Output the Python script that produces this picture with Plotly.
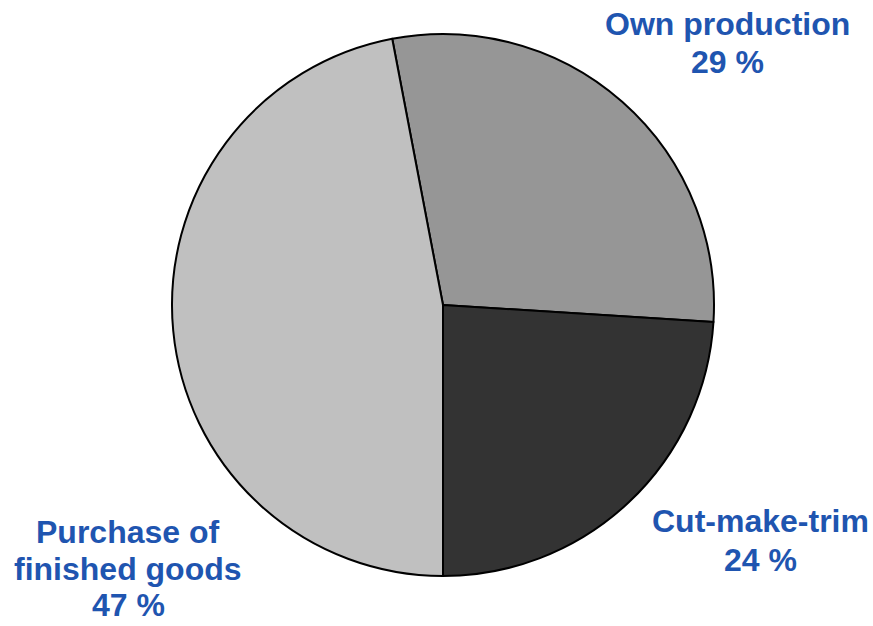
import plotly.graph_objects as go

labels = ["Own production", "Cut-make-trim", "Purchase of finished goods"]
values = [29, 24, 47]
colors = ["#969696", "#333333", "#C0C0C0"]
label_lines = [["Own production", "29 %"], ["Cut-make-trim", "24 %"], ["Purchase of", "finished goods", "47 %"]]
# label line centers in pixels (x, [y per line])
label_pos = [(727, [24, 62]), (760, [521, 560]), (128, [532, 569, 605])]

W, H = 873, 626
cx, cy, r = 443, 305, 271

fig = go.Figure(go.Pie(
    labels=labels, values=values, sort=False, direction="clockwise", rotation=-10.8,
    marker=dict(colors=colors, line=dict(color="#000000", width=2)),
    textinfo="none", hoverinfo="label+percent", showlegend=False,
    domain=dict(x=[(cx - r) / W, (cx + r) / W], y=[1 - (cy + r) / H, 1 - (cy - r) / H]),
))

anns = []
for lines, (px, pys) in zip(label_lines, label_pos):
    for t, py in zip(lines, pys):
        anns.append(dict(text="<b>" + t + "</b>", x=px / W, y=1 - py / H, xref="paper", yref="paper",
                         xanchor="center", yanchor="middle", showarrow=False, borderpad=0,
                         font=dict(family="Liberation Sans, Arial", size=32, color="#1F55B0"),
                         ))

fig.update_layout(width=W, height=H, margin=dict(l=0, r=0, t=0, b=0),
                  paper_bgcolor="white", plot_bgcolor="white", annotations=anns)
fig.write_html("out.html")
